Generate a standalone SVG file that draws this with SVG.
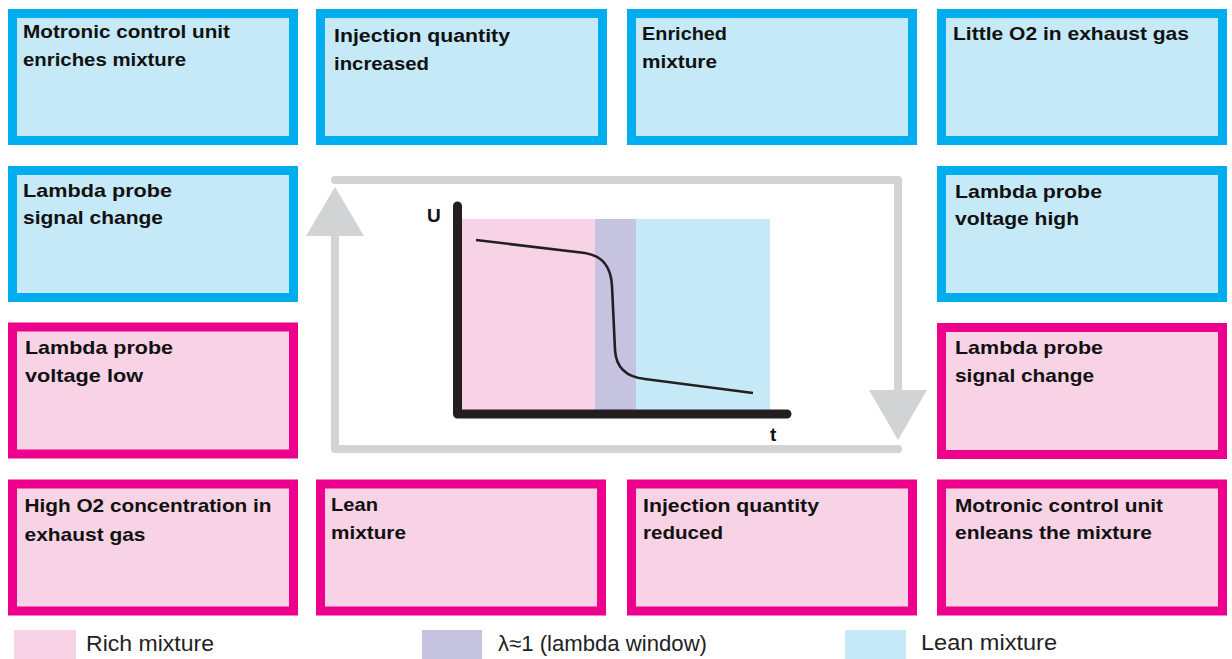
<svg xmlns="http://www.w3.org/2000/svg" width="1232" height="659" viewBox="0 0 1232 659">
<style>
  .blue rect { fill: #C6E9F8; stroke: #00AEEF; stroke-width: 9; }
  .pink rect { fill: #F8D3E5; stroke: #EC008C; stroke-width: 9; }
  .node text { font-family: "Liberation Sans", Arial, sans-serif; font-weight: bold; font-size: 19px; fill: #111; }
  .loop { fill: none; stroke: #D1D3D4; stroke-width: 8; stroke-linecap: round; stroke-linejoin: round; }
  .head { fill: #D1D3D4; }
  .axis { fill: none; stroke: #231F20; stroke-width: 9; stroke-linecap: round; stroke-linejoin: round; }
  .curve { fill: none; stroke: #231F20; stroke-width: 2.6; }
  .axlabel { font-family: "Liberation Sans", Arial, sans-serif; font-weight: bold; font-size: 19px; fill: #111; }
  .legend text { font-family: "Liberation Sans", Arial, sans-serif; font-size: 22px; fill: #222; }
</style>

<!-- Row 1 -->
<g id="n-motronic-enriches" class="node blue">
  <rect x="12.5" y="13.5" width="281" height="127"/>
  <text x="23" y="37.5" textLength="207" lengthAdjust="spacingAndGlyphs">Motronic control unit</text>
  <text x="23" y="65.5" textLength="163" lengthAdjust="spacingAndGlyphs">enriches mixture</text>
</g>
<g id="n-injection-increased" class="node blue">
  <rect x="320.5" y="13.5" width="282" height="127"/>
  <text x="334" y="42" textLength="176" lengthAdjust="spacingAndGlyphs">Injection quantity</text>
  <text x="334" y="70" textLength="95" lengthAdjust="spacingAndGlyphs">increased</text>
</g>
<g id="n-enriched-mixture" class="node blue">
  <rect x="631.5" y="13.5" width="281" height="127"/>
  <text x="642" y="40" textLength="85" lengthAdjust="spacingAndGlyphs">Enriched</text>
  <text x="642" y="68" textLength="75" lengthAdjust="spacingAndGlyphs">mixture</text>
</g>
<g id="n-little-o2" class="node blue">
  <rect x="941.5" y="13.5" width="281" height="127"/>
  <text x="953" y="40" textLength="236" lengthAdjust="spacingAndGlyphs">Little O2 in exhaust gas</text>
</g>

<!-- Row 2 -->
<g id="n-probe-signal-left" class="node blue">
  <rect x="12.5" y="170.5" width="281" height="127"/>
  <text x="23" y="197" textLength="149" lengthAdjust="spacingAndGlyphs">Lambda probe</text>
  <text x="23" y="224" textLength="140" lengthAdjust="spacingAndGlyphs">signal change</text>
</g>
<g id="n-probe-voltage-high" class="node blue">
  <rect x="941.5" y="170.5" width="281" height="127"/>
  <text x="955" y="198" textLength="147" lengthAdjust="spacingAndGlyphs">Lambda probe</text>
  <text x="955" y="225" textLength="124" lengthAdjust="spacingAndGlyphs">voltage high</text>
</g>

<!-- Row 3 -->
<g id="n-probe-voltage-low" class="node pink">
  <rect x="12.5" y="327" width="281" height="127"/>
  <text x="25" y="354" textLength="148" lengthAdjust="spacingAndGlyphs">Lambda probe</text>
  <text x="25" y="381.5" textLength="118" lengthAdjust="spacingAndGlyphs">voltage low</text>
</g>
<g id="n-probe-signal-right" class="node pink">
  <rect x="941.5" y="327.5" width="281" height="127"/>
  <text x="955" y="354" textLength="148" lengthAdjust="spacingAndGlyphs">Lambda probe</text>
  <text x="955" y="381.5" textLength="139" lengthAdjust="spacingAndGlyphs">signal change</text>
</g>

<!-- Row 4 -->
<g id="n-high-o2" class="node pink">
  <rect x="12.5" y="484" width="281" height="127"/>
  <text x="24.5" y="512" textLength="247" lengthAdjust="spacingAndGlyphs">High O2 concentration in</text>
  <text x="24.5" y="540.5" textLength="121" lengthAdjust="spacingAndGlyphs">exhaust gas</text>
</g>
<g id="n-lean-mixture" class="node pink">
  <rect x="320.5" y="484" width="281" height="127"/>
  <text x="331" y="510.5" textLength="47" lengthAdjust="spacingAndGlyphs">Lean</text>
  <text x="331" y="539" textLength="75" lengthAdjust="spacingAndGlyphs">mixture</text>
</g>
<g id="n-injection-reduced" class="node pink">
  <rect x="631.5" y="484" width="281" height="127"/>
  <text x="643" y="511.5" textLength="176" lengthAdjust="spacingAndGlyphs">Injection quantity</text>
  <text x="643" y="539" textLength="80" lengthAdjust="spacingAndGlyphs">reduced</text>
</g>
<g id="n-motronic-enleans" class="node pink">
  <rect x="941.5" y="484" width="281" height="127"/>
  <text x="955" y="511.5" textLength="208" lengthAdjust="spacingAndGlyphs">Motronic control unit</text>
  <text x="955" y="539" textLength="197" lengthAdjust="spacingAndGlyphs">enleans the mixture</text>
</g>

<!-- Connectors: control loop -->
<g id="connectors">
  <path class="loop" d="M335,180 L898,180 L898,392"/>
  <polygon class="head" points="869,390 927,390 898,440"/>
  <path class="loop" d="M898,449 L335,449 L335,234"/>
  <polygon class="head" points="306,236 364,236 335,187"/>
</g>

<!-- Chart -->
<g id="chart">
  <rect x="462" y="219" width="133" height="191" fill="#F8D3E5"/>
  <rect x="595" y="219" width="41" height="191" fill="#C6C3E1"/>
  <rect x="636" y="219" width="134" height="191" fill="#C6E9F8"/>
  <path class="axis" d="M457.5,206 L457.5,414 L787,414"/>
  <path class="curve" d="M476,240 L585,253 C604,256 611,268 612,286 L615,350 C616,368 626,377 645,379 L753,393"/>
  <text class="axlabel" x="427" y="222">U</text>
  <text class="axlabel" x="770" y="441">t</text>
</g>

<!-- Legend -->
<g id="legend" class="legend">
  <rect x="14" y="630" width="62" height="29" fill="#F8D3E5"/>
  <text x="86" y="651" textLength="128" lengthAdjust="spacingAndGlyphs">Rich mixture</text>
  <rect x="422" y="630" width="60" height="29" fill="#C6C3E1"/>
  <text x="498" y="651" textLength="209" lengthAdjust="spacingAndGlyphs">λ≈1 (lambda window)</text>
  <rect x="845" y="630" width="61" height="29" fill="#C6E9F8"/>
  <text x="921" y="649.5" textLength="136" lengthAdjust="spacingAndGlyphs">Lean mixture</text>
</g>
</svg>
